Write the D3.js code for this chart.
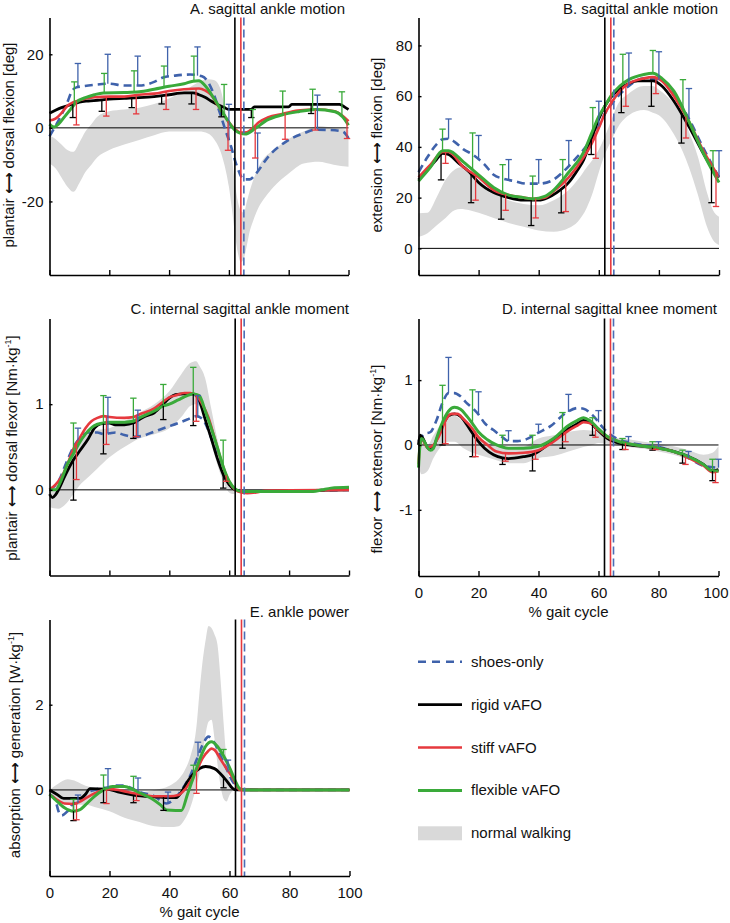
<!DOCTYPE html>
<html><head><meta charset="utf-8">
<script src="https://cdn.jsdelivr.net/npm/d3@7"></script>
<style>
body{margin:0;background:#fff}
text{font-family:"Liberation Sans",Arial,Helvetica,sans-serif;fill:#111}
</style>
</head><body>
<svg id="chart" width="730" height="923"></svg>
<script>
// ---------------- DATA ----------------
const gaitTicks = [0, 20, 40, 60, 80, 100];
const seriesNames = ["shoes-only", "rigid vAFO", "stiff vAFO", "flexible vAFO", "normal walking"];
// toe-off (% gait cycle)
const toeOffShoes = 65, toeOffRigid = 62, toeOffStiff = 64;

// A. sagittal ankle motion [deg]
const aBand = [[0,-9.7,-2],[2,-11,-3],[4,-13.5,-4.5],[6,-16,-6],[8,-17.4,-6.5],[10,-15,-4],[12,-12,-1],[14,-10,1],[16,-8,3],[20,-6,4.5],[25,-4.5,5],[30,-3.3,5.5],[35,-2,6.5],[40,-1,8],[45,-1,10],[50,-1,12.5],[53,-1.5,13.2],[55,-3,13],[57,-6,11],[58.5,-10,6],[60,-16,-1],[61,-22,-8],[62,-28.7,-15],[63,-34,-20],[64,-36.5,-22.5],[65,-35.5,-23],[66,-32,-20],[67,-28,-17],[68,-25.5,-14.5],[70,-21.5,-10.5],[72,-19,-8],[75,-16,-6],[80,-12.4,-3],[85,-9.7,-1],[90,-9.2,0.5],[95,-10,0],[100,-10.6,-0.5]];
const aShoes = [[0,-2.3],[2,0.5],[4,3.5],[6,7],[7.5,10],[9,11],[11,11.3],[15,11.7],[20,12],[25,11.5],[30,11.5],[35,12.5],[38,13.7],[42,14.2],[47,14.5],[51,14],[53,12.5],[55,9],[57,4],[59,-1],[60.5,-4.5],[62.5,-10],[65,-14],[67,-14],[69,-12.5],[73,-8],[79,-3.8],[85,-1.5],[89,-0.5],[94,-0.6],[98,-1],[100,-2.8]];
const aRigid = [[0,4],[2,4.8],[4,5.5],[6,6],[8,6.5],[10,7],[13,7.3],[16,7.5],[20,7.8],[25,8],[30,8.2],[35,8.5],[40,9],[45,9.5],[48,9.5],[50,9],[52,8.3],[54,7.3],[56.5,6.2],[58.5,5.5],[60,5],[67.5,5],[68.5,5.7],[80,5.7],[81,6.4],[97,6.4],[99,5.5],[100,5]];
const aStiff = [[0,2],[2,2.5],[4,4],[6,6],[8,7],[10,7.5],[15,8.3],[20,8.5],[25,8.5],[30,9],[35,9.3],[40,10],[45,10.5],[50,10.7],[52,10.2],[54,9],[56,6.5],[58,4],[60,1.5],[62,-0.3],[64,-1.3],[66,-1.2],[68,0],[70,1.5],[73,2.8],[78,3.8],[83,4.7],[89,5],[95,4.6],[98,3.3],[100,1.8]];
const aFlex = [[0,1],[1.5,0.2],[3,1],[5,3],[7,5],[9,7],[12,8.2],[15,9],[18,9.5],[25,9.6],[30,9.8],[35,10.5],[40,11.3],[45,12],[48,12.7],[50,12.8],[52,11.5],[55.4,7.5],[58.8,3],[62,-0.6],[65.4,-1.7],[68.8,-0.2],[72.7,2.1],[77.7,3.5],[83.3,4.4],[89,5],[95.5,4.4],[98,3],[100,0.7]];
const aErrShoes = [[9.5,17.5],[19.5,20],[29.5,19.5],[39.5,22],[49.5,22],[60,6.4],[69.6,-1.4],[89.6,8.9]];
const aErrRigid = [[7.8,2.8],[17.5,4.5],[27.5,5.5],[37.5,6.5],[47.5,6.5],[57.5,3],[67.5,2.8],[87.5,3.9]];
const aErrStiff = [[9,0.8],[19,3.2],[29,3.8],[39,5],[49,5],[59.7,-6.1],[68.8,-8.2],[78.8,-3.1],[88.9,-0.6],[99.5,-2.9]];
const aErrFlex = [[8.3,12.5],[18.3,14.8],[28.3,15.5],[38.3,16.8],[48.3,19.5],[58.4,11.8],[68,5],[78,10],[88,10.5],[97.8,9.8]];

// B. sagittal ankle motion (right column) [deg]
const bBand = [[0,4.6,13.8],[3,6,14],[6,9,20],[9,12,27],[12,15,31],[14,15.5,32],[17,15,30],[20,14,27],[25,12,22],[30,10,19],[35,8.5,17.5],[40,7,17],[45,6.5,19],[50,8,23],[53,10.5,27],[56,16,32],[58,22,35],[60,30,39],[62,37,44],[64,42,50],[66,47,56],[70,52.5,61],[75,54.5,64],[78,53.5,64],[80,52.5,62.5],[85,45,57],[88,38,52],[90,32,46],[93,21,36],[96,8.5,22],[98,3.3,15],[100,1.3,12.5]];
const bShoes = [[0,30],[3,36],[6,41],[8,43],[10,43.2],[12,42],[15,39],[18,37],[22,33],[25,29],[28,27.5],[32,26.5],[36,25.5],[40,25.5],[44,26.5],[48,30],[52,35],[55,39],[57.5,43],[60,48],[62,53],[65,58],[70,64],[75,67],[80,66.5],[85,61],[90,51],[95,39],[100,28]];
const bRigid = [[0,27],[3,31],[6,35],[8,37.5],[10,37],[13,34],[17,30],[20,26],[25,22],[30,20],[35,19],[40,19],[43,20],[46,22],[50,26],[53,31],[55,35],[57.5,43],[60,51],[62,56],[64,59.5],[67,63],[70,65],[73,66],[78,66],[81,64],[85,58],[90,48],[95,37],[98,31],[100,28]];
const bStiff = [[0,28],[4,33],[8,38],[10,38],[15,32],[20,28],[25,23],[30,21],[35,20],[38,19.5],[42,20],[45,22.5],[50,28],[55,36],[57.5,41],[60,47.5],[62,53],[64,57],[67,62],[70,65],[75,67],[78,67.5],[81,66],[85,60],[90,50],[95,38],[100,28]];
const bFlex = [[0,26.5],[4,32],[8,38.5],[10,38.5],[15,34],[20,29],[25,24],[30,21],[35,20],[38,19.5],[42,20.5],[45,23],[50,30],[55,38],[57.5,45],[60,52],[62,56],[64,60],[67,64],[70,66.5],[75,68.5],[78,69],[81,67],[85,62],[90,50],[95,37],[100,26]];
const bErrShoes = [[10,51],[20,44.5],[30,35],[40,35],[50,42.5],[60,58],[70,77],[80,77.5],[90,63],[100,38.5]];
const bErrRigid = [[7.5,27],[17.5,18],[27.5,11.5],[37.5,9],[47.5,14],[57.5,37],[67.5,53.5],[77.5,56],[87.5,41.5],[97.5,18]];
const bErrStiff = [[9,33.5],[19,19],[29,15],[39,12],[49,14.5],[59,35.5],[69,56],[79,61],[89,43.5],[99,16.5]];
const bErrFlex = [[8,47],[18,45.5],[28,33],[38,28.5],[48,35],[58,55.5],[68,76.5],[78,78],[88,66.5],[98,38.5]];

// C. internal sagittal ankle moment [Nm/kg]
const cBand = [[0,-0.2,0],[3,-0.22,0.08],[5,-0.18,0.25],[8,-0.05,0.48],[10,0.05,0.58],[13,0.15,0.66],[16,0.25,0.7],[20,0.38,0.72],[25,0.5,0.8],[30,0.6,0.9],[35,0.65,1.0],[40,0.72,1.15],[44,0.85,1.35],[47,0.98,1.48],[49,1.0,1.5],[50,0.98,1.45],[52,0.8,1.3],[54,0.55,0.95],[56,0.3,0.6],[58,0.1,0.3],[60,-0.03,0.1],[61.5,-0.05,0.02],[62.5,-0.02,0]];
const cShoes = [[0,0],[3,0.1],[6,0.35],[8,0.5],[10,0.6],[13,0.67],[16,0.67],[18,0.65],[20,0.66],[22,0.67],[25,0.64],[28,0.62],[31,0.63],[35,0.68],[39,0.73],[43,0.78],[46,0.82],[49,0.86],[51,0.83],[53,0.7],[55,0.5],[57,0.3],[59,0.12],[61,0.03],[63,0],[66,-0.02],[100,0]];
const cRigid = [[0,-0.05],[1,-0.09],[2,-0.06],[3,0],[5,0.15],[8,0.35],[10,0.45],[13,0.6],[15,0.72],[17,0.77],[20,0.78],[22,0.76],[25,0.76],[28,0.78],[30,0.82],[32,0.86],[35,0.9],[38,1.0],[40,1.07],[42,1.11],[45,1.12],[48,1.12],[50,1.04],[52,0.82],[54,0.6],[56,0.37],[58,0.18],[60,0.06],[62,0],[65,-0.02],[70,-0.02],[80,-0.01],[100,0]];
const cStiff = [[0,0],[2,0.06],[4,0.15],[6,0.3],[8,0.48],[10,0.6],[12,0.72],[14,0.8],[16,0.84],[18,0.86],[20,0.85],[25,0.84],[28,0.85],[30,0.88],[35,0.95],[38,1.03],[40,1.08],[42,1.1],[45,1.13],[47,1.13],[49,1.1],[51,1.0],[53,0.85],[55,0.62],[57,0.38],[59,0.17],[61,0.04],[63,-0.02],[66,-0.04],[69,-0.03],[72,-0.01],[100,0]];
const cFlex = [[0,0],[2,0],[4,0.12],[6,0.3],[8,0.42],[10,0.55],[12,0.65],[15,0.75],[18,0.78],[20,0.79],[25,0.79],[28,0.8],[30,0.84],[35,0.92],[38,0.98],[40,1.0],[43,1.05],[46,1.1],[48,1.12],[50,1.1],[52,0.92],[54,0.72],[56,0.5],[58,0.27],[60,0.1],[62,0.01],[64,-0.02],[70,-0.02],[88,-0.02],[91,0],[94,0.02],[100,0.03]];
const cErrShoes = [[9.5,0.72],[19.5,1.08],[29.5,0.93],[49.5,1.1]];
const cErrRigid = [[8,-0.12],[18,0.42],[28,0.6],[38,0.82],[48,0.75],[58,0.02]];
const cErrStiff = [[9,0.12],[19,0.53],[29,0.62],[49,0.8],[59,0.1]];
const cErrFlex = [[8,0.78],[18,1.1],[28,1.07],[38,1.23],[48,1.43],[58,0.58]];

// D. internal sagittal knee moment [Nm/kg]
const dBand = [[0,-0.3,0],[1,-0.45,0.1],[3,-0.4,0],[5,-0.2,0.15],[8,0,0.35],[10,0.05,0.45],[12,0.05,0.45],[15,-0.05,0.35],[18,-0.12,0.22],[20,-0.15,0.12],[25,-0.22,0.02],[30,-0.28,-0.03],[35,-0.28,-0.02],[40,-0.2,0.1],[45,-0.17,0.15],[50,-0.1,0.2],[55,-0.03,0.23],[58,0,0.22],[60,0.03,0.2],[65,0,0.12],[70,-0.03,0.09],[75,-0.06,0.05],[80,-0.1,0.02],[85,-0.15,-0.02],[90,-0.22,-0.08],[95,-0.3,-0.15],[98,-0.38,-0.12],[100,-0.4,-0.02]];
const dShoes = [[0,0.05],[2,0.17],[4,0.2],[6,0.38],[8,0.65],[10,0.8],[12,0.8],[14,0.75],[16,0.65],[18,0.57],[20,0.47],[22,0.34],[25,0.23],[28,0.12],[30,0.06],[33,0.06],[36,0.09],[40,0.19],[44,0.29],[49,0.49],[53,0.57],[55,0.56],[58,0.46],[62,0.24],[66,0.1],[70,0.04],[75,0],[80,-0.03],[85,-0.1],[90,-0.2],[95,-0.32],[100,-0.35]];
const dRigid = [[0,0],[0.5,0.15],[1.5,0.1],[2.5,0],[3.5,-0.06],[5,-0.03],[6,0.08],[8,0.3],[10,0.45],[12,0.48],[14,0.44],[16,0.32],[18,0.18],[20,0.05],[22,-0.05],[25,-0.15],[28,-0.2],[30,-0.21],[35,-0.18],[38,-0.15],[40,-0.1],[43,0],[46,0.12],[50,0.25],[53,0.33],[55,0.38],[57,0.35],[60,0.22],[63,0.1],[66,0.04],[70,0],[75,-0.02],[80,-0.05],[85,-0.1],[90,-0.18],[95,-0.3],[98,-0.4],[100,-0.38]];
const dStiff = [[0,-0.3],[0.5,0],[1.2,0.08],[3,-0.04],[5,0],[7,0.15],[9,0.38],[11,0.48],[13,0.48],[15,0.4],[18,0.25],[20,0.12],[23,0],[26,-0.1],[30,-0.13],[35,-0.12],[40,-0.08],[45,0.05],[50,0.22],[53,0.3],[55,0.35],[57,0.34],[60,0.23],[63,0.12],[67,0.05],[70,0.02],[75,-0.02],[80,-0.05],[85,-0.1],[90,-0.2],[95,-0.32],[98,-0.42],[100,-0.4]];
const dFlex = [[0,-0.35],[0.5,0],[1,0.1],[2,0.05],[3,-0.04],[4,-0.08],[5,-0.05],[6,0.1],[8,0.35],[10,0.52],[12,0.58],[14,0.55],[16,0.45],[18,0.33],[20,0.2],[23,0.08],[26,0],[30,-0.05],[35,-0.05],[40,-0.02],[45,0.1],[50,0.3],[53,0.38],[55,0.42],[57,0.38],[60,0.25],[63,0.13],[67,0.05],[70,0.02],[75,-0.02],[80,-0.05],[85,-0.1],[90,-0.18],[95,-0.3],[98,-0.4],[100,-0.4]];
const dErrShoes = [[10,1.35],[20,0.82],[30,0.22],[40,0.32],[50,0.78],[60,0.53],[70,0.13],[80,0.05],[90,-0.1],[100,-0.22]];
const dErrRigid = [[8,0],[18,-0.18],[28,-0.3],[38,-0.4],[48,-0.05],[58,0.15],[68,-0.07],[78,-0.08],[88,-0.28],[98,-0.55]];
const dErrStiff = [[9,0.02],[19,-0.18],[29,-0.25],[39,-0.22],[49,0.05],[59,0.12],[69,-0.07],[79,-0.07],[89,-0.3],[99,-0.58]];
const dErrFlex = [[8,0.92],[18,0.85],[28,0.15],[38,0.15],[48,0.5],[58,0.42],[68,0.1],[78,0.05],[88,-0.08],[98,-0.22]];

// E. ankle power [W/kg]
const eBand = [[0,-0.05,0],[3,-0.25,0.15],[6,-0.35,0.25],[9,-0.35,0.2],[12,-0.35,0.1],[15,-0.4,0.05],[20,-0.5,0],[25,-0.65,0],[30,-0.75,-0.05],[35,-0.85,0],[40,-0.87,0.1],[43,-0.85,0.25],[45,-0.7,0.45],[47,-0.4,0.8],[49,0.1,1.5],[50,0.4,2.3],[51,0.8,3.0],[52,1.3,3.5],[53,1.6,3.85],[54,1.65,3.8],[55,1.2,3.65],[56,0.6,3.4],[57,0.1,2.6],[58,-0.2,1.6],[59,-0.27,0.7],[60,-0.12,0.25],[61,-0.03,0.08],[63,0,0.05],[65,-0.02,0.05],[70,-0.02,0.02],[75,0,0],[100,-0.03,0]];
const eShoes = [[0,-0.1],[2,-0.25],[3,-0.5],[4,-0.6],[6,-0.5],[8,-0.32],[10,-0.3],[12,-0.1],[15,0],[18,0.05],[20,0.05],[22,0.1],[25,0.1],[27,0.05],[30,-0.05],[35,-0.15],[37,-0.25],[39,-0.32],[41,-0.25],[43,-0.1],[45,0.1],[47,0.35],[49,0.7],[51,1.05],[53,1.25],[55,1.1],[57,0.8],[59,0.5],[61,0.2],[63,0.05],[65,0],[100,0]];
const eRigid = [[0,0],[2.4,-0.1],[4.7,-0.2],[10.2,-0.2],[12,-0.1],[13.5,0.03],[19,0.02],[23.5,-0.06],[28,-0.12],[34.6,-0.16],[42.3,-0.18],[44,-0.05],[46,0.2],[48,0.38],[50,0.5],[52,0.55],[55,0.5],[57,0.38],[59,0.22],[61,0.04],[62,0],[100,0]];
const eStiff = [[0,-0.1],[3,-0.25],[5,-0.32],[8,-0.33],[10,-0.28],[12,-0.2],[15,-0.08],[18,0],[20,0.02],[23,0],[26,-0.05],[30,-0.1],[35,-0.15],[40,-0.15],[43,-0.12],[45,0],[47,0.2],[49,0.45],[51,0.74],[53,0.92],[54,0.97],[55,0.94],[57,0.72],[59,0.5],[61,0.29],[63.4,0],[100,0]];
const eFlex = [[0,-0.1],[3,-0.3],[5,-0.42],[8,-0.5],[10,-0.47],[12,-0.35],[15,-0.15],[18,0],[21,0.08],[25,0.08],[28,0],[31,-0.1],[34,-0.2],[37,-0.35],[39,-0.47],[42,-0.48],[44,-0.48],[46,-0.1],[48,0.3],[50,0.7],[52,1.02],[54,1.13],[56,1.02],[58,0.8],[60,0.53],[62,0.2],[63.5,0.02],[65,0],[100,0]];
const eErrShoes = [[9.5,-0.12],[19.5,0.5],[29.5,0.28],[39.5,-0.05],[49.5,1.12],[59.5,0.7]];
const eErrRigid = [[8,-0.72],[18,-0.3],[28,-0.3],[38,-0.48],[58,0.05]];
const eErrStiff = [[9,-0.7],[19,-0.32],[29,-0.25],[49,-0.08]];
const eErrFlex = [[8,-0.22],[18,0.35],[28,0.32],[48,0.58],[58,0.95]];

// ---------------- STYLE / LAYOUT ----------------
const COL = {shoes:"#3f62ab", rigid:"#000000", stiff:"#e6393e", flex:"#3aaa3a", band:"#d9d9d9"};
const FONT = 15;
const svg = d3.select("#chart");

const panels = [
  {title:"A. sagittal ankle motion", box:[49.5,348.5,17.5,275], dom:[-40,30], yt:[-20,0,20], xl:false,
   lab:{x:13.5,y:145,a:"plantair",b:"dorsal flexion [deg]",sup:null}, titlePos:[345,14],
   band:aBand, s:{shoes:aShoes,rigid:aRigid,stiff:aStiff,flex:aFlex}, e:{shoes:aErrShoes,rigid:aErrRigid,stiff:aErrStiff,flex:aErrFlex}},
  {title:"B. sagittal ankle motion", box:[418.5,719,17.5,275], dom:[-10.5,91], yt:[0,20,40,60,80], xl:false,
   lab:{x:381.5,y:145,a:"extension",b:"flexion [deg]",sup:null}, titlePos:[718,14],
   band:bBand, s:{shoes:bShoes,rigid:bRigid,stiff:bStiff,flex:bFlex}, e:{shoes:bErrShoes,rigid:bErrRigid,stiff:bErrStiff,flex:bErrFlex}},
  {title:"C. internal sagittal ankle moment", box:[49.5,349,318.5,575.5], dom:[-1,2], yt:[0,1], xl:false,
   lab:{x:16.5,y:448,a:"plantair",b:"dorsal flexor [Nm·kg",sup:"-1"}, titlePos:[349,313.5],
   band:cBand, s:{shoes:cShoes,rigid:cRigid,stiff:cStiff,flex:cFlex}, e:{shoes:cErrShoes,rigid:cErrRigid,stiff:cErrStiff,flex:cErrFlex}},
  {title:"D. internal sagittal knee moment", box:[418.5,718.5,318.5,576], dom:[-2.02,1.95], yt:[-1,0,1], xl:true,
   lab:{x:381.5,y:459,a:"flexor",b:"extensor [Nm·kg",sup:"-1"}, titlePos:[717,313.5],
   band:dBand, s:{shoes:dShoes,rigid:dRigid,stiff:dStiff,flex:dFlex}, e:{shoes:dErrShoes,rigid:dErrRigid,stiff:dErrStiff,flex:dErrFlex}},
  {title:"E. ankle power", box:[49.5,349.5,619.5,876], dom:[-2.02,4], yt:[0,2], xl:true,
   lab:{x:19.5,y:745,a:"absorption",b:"generation [W·kg",sup:"-1"}, titlePos:[349,616.5],
   band:eBand, s:{shoes:eShoes,rigid:eRigid,stiff:eStiff,flex:eFlex}, e:{shoes:eErrShoes,rigid:eErrRigid,stiff:eErrStiff,flex:eErrFlex}}
];

function interp(arr, x){
  for(let i=0;i<arr.length-1;i++){
    const a=arr[i], b=arr[i+1];
    if(x>=a[0] && x<=b[0]){ const t=(x-a[0])/(b[0]-a[0]||1); return a[1]+t*(b[1]-a[1]); }
  }
  return x<arr[0][0]?arr[0][1]:arr[arr.length-1][1];
}

const order = ["shoes","rigid","stiff","flex"];
const lineStyle = {
  shoes:{w:2.6,dash:"8,5"}, rigid:{w:2.8,dash:null}, stiff:{w:2.6,dash:null}, flex:{w:3,dash:null}
};

panels.forEach(p=>{
  const [x0,x1,y0,y1]=p.box;
  const x=d3.scaleLinear().domain([0,100]).range([x0,x1]);
  const y=d3.scaleLinear().domain(p.dom).range([y1,y0]);
  const g=svg.append("g");

  // normal walking band
  g.append("path").datum(p.band)
    .attr("d", d3.area().x(d=>x(d[0])).y0(d=>y(d[1])).y1(d=>y(d[2])).curve(d3.curveMonotoneX))
    .attr("fill",COL.band).attr("stroke","none");

  // zero line
  g.append("line").attr("x1",x0).attr("x2",x1).attr("y1",y(0)).attr("y2",y(0))
    .attr("stroke","#000").attr("stroke-width",1);

  // curves
  order.forEach(k=>{
    const ls=lineStyle[k];
    g.append("path").datum(p.s[k])
      .attr("d", d3.line().x(d=>x(d[0])).y(d=>y(d[1])).curve(d3.curveMonotoneX))
      .attr("fill","none").attr("stroke",COL[k]).attr("stroke-width",ls.w)
      .attr("stroke-linejoin","round")
      .attr("stroke-dasharray",ls.dash);
  });

  // error bars (from mean curve to end value, capped at end)
  order.forEach(k=>{
    p.e[k].forEach(([px,v])=>{
      const start=interp(p.s[k],px);
      const xx=x(px);
      g.append("line").attr("x1",xx).attr("x2",xx).attr("y1",y(start)).attr("y2",y(v))
        .attr("stroke",COL[k]).attr("stroke-width",1.3);
      g.append("line").attr("x1",xx-3.2).attr("x2",xx+3.2).attr("y1",y(v)).attr("y2",y(v))
        .attr("stroke",COL[k]).attr("stroke-width",1.3);
    });
  });

  // toe-off lines
  [[toeOffRigid,COL.rigid,null],[toeOffStiff,COL.stiff,null],[toeOffShoes,"#4a6db5","8,4"]].forEach(([v,c,dash])=>{
    g.append("line").attr("x1",x(v)).attr("x2",x(v)).attr("y1",y0).attr("y2",y1)
      .attr("stroke",c).attr("stroke-width",1.6).attr("stroke-dasharray",dash);
  });

  // axes
  const ya=d3.axisLeft(y).tickValues(p.yt).tickSizeInner(-3).tickSizeOuter(0).tickPadding(6).tickFormat(d=>String(d));
  const yg=g.append("g").attr("transform",`translate(${x0},0)`).call(ya);
  const xa=d3.axisBottom(x).tickValues(gaitTicks).tickSizeInner(-5).tickSizeOuter(0).tickPadding(11)
    .tickFormat(p.xl? (d=>String(d)) : (()=>""));
  const xg=g.append("g").attr("transform",`translate(0,${y1})`).call(xa);
  [yg,xg].forEach(a=>{
    a.select(".domain").attr("stroke","#000").attr("stroke-width",1.6);
    a.selectAll(".tick line").attr("stroke","#000").attr("stroke-width",1.4);
    a.selectAll(".tick text").attr("font-size",FONT).attr("font-family","Liberation Sans, Arial, sans-serif").attr("fill","#111");
  });
  // keep the last x tick label inside the page
  if(p.xl && x1>700){
    xg.selectAll(".tick text").filter(d=>d===100).attr("dx",-3);
  }

  // title
  g.append("text").attr("x",p.titlePos[0]).attr("y",p.titlePos[1]).attr("text-anchor","end")
    .attr("font-size",FONT).text(p.title);

  // y label
  const t=g.append("text").attr("transform",`translate(${p.lab.x},${p.lab.y}) rotate(-90)`)
    .attr("text-anchor","middle").attr("font-size",FONT);
  t.append("tspan").text(p.lab.a+" ");
  t.append("tspan").attr("font-family","DejaVu Sans").attr("font-weight","bold").text("⟷");
  t.append("tspan").text(" "+p.lab.b);
  if(p.lab.sup){
    t.append("tspan").attr("font-size",9).attr("dy",-6).text(p.lab.sup);
    t.append("tspan").attr("dy",6).text("]");
  }

  if(p.xl){
    g.append("text").attr("x",(x0+x1)/2).attr("y",y1+41).attr("text-anchor","middle")
      .attr("font-size",FONT).text("% gait cycle");
  }
});

// legend
const legKeys=["shoes","rigid","stiff","flex","band"];
const legY = d3.scalePoint().domain(legKeys).range([661.7,833.3]);
legKeys.forEach((k,i)=>{
  const cy=legY(k);
  if(k==="band"){
    svg.append("rect").attr("x",418).attr("y",cy-7).attr("width",44).attr("height",14).attr("fill",COL.band);
  } else {
    svg.append("line").attr("x1",418).attr("x2",462).attr("y1",cy).attr("y2",cy)
      .attr("stroke",COL[k]).attr("stroke-width",lineStyle[k].w).attr("stroke-dasharray",k==="shoes"?"8,6":null);
  }
  svg.append("text").attr("x",471).attr("y",cy+5).attr("font-size",FONT).text(seriesNames[i]);
});
</script>
</body></html>
